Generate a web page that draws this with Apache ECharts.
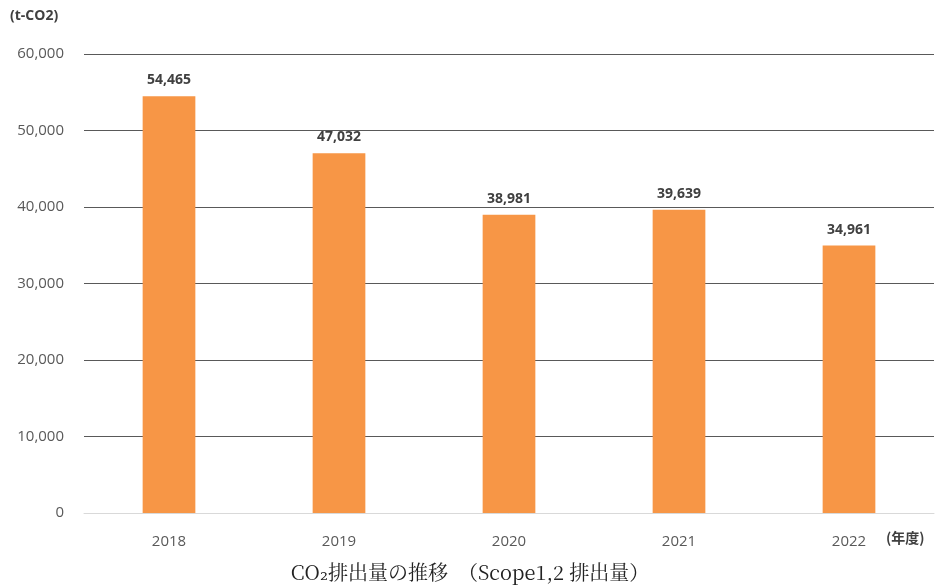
<!DOCTYPE html>
<html><head><meta charset="utf-8">
<script src="https://cdn.jsdelivr.net/npm/echarts@6/dist/echarts.min.js"></script>
<style>html,body{margin:0;padding:0;background:#fff}#c{width:940px;height:588px}</style>
</head><body><div id="c"></div>
<script>
const categories = ['2018','2019','2020','2021','2022'];
const emissions = [54465, 47032, 38981, 39639, 34961];
const yTicks = [0, 10000, 20000, 30000, 40000, 50000, 60000];
const unitLabel = '(t-CO2)';
const xUnitLabel = '(年度)';
const titleText = 'CO₂排出量の推移\u3000（Scope1,2 排出量）';

const chart = echarts.init(document.getElementById('c'));
chart.setOption({
  animation: false,
  backgroundColor: '#fff',
  title: {
    text: titleText, left: 'center', bottom: 1,
    textStyle: {fontFamily: '"Noto Serif CJK JP","Noto Sans CJK JP","DejaVu Serif",serif', fontWeight: 'normal', fontSize: 20, color: '#222'}
  },
  graphic: [
    {type: 'text', left: 10, top: 9, style: {text: unitLabel, fill: '#404040', font: 'bold 14px "Open Sans",sans-serif'}},
    {type: 'text', left: 886, top: 531, style: {text: xUnitLabel, fill: '#404040', font: 'bold 14px "Noto Sans CJK JP",sans-serif'}}
  ],
  grid: {left: 84, right: 6, top: 54, bottom: 75, containLabel: false},
  xAxis: {
    type: 'category', data: categories,
    axisLine: {show: true, lineStyle: {color: '#d9d9d9', width: 1}},
    axisTick: {show: false},
    axisLabel: {color: '#595959', fontSize: 15, margin: 21, fontFamily: '"Open Sans",sans-serif'}
  },
  yAxis: {
    type: 'value', min: yTicks[0], max: yTicks[yTicks.length-1], interval: 10000,
    axisLine: {show: false}, axisTick: {show: false},
    splitLine: {lineStyle: {color: '#595959', width: 1.2}},
    axisLabel: {color: '#595959', fontSize: 15, margin: 20,
      formatter: v => v.toLocaleString('en-US'), fontFamily: '"Open Sans",sans-serif'}
  },
  series: [{
    type: 'bar', data: emissions, barWidth: '31%',
    itemStyle: {color: '#F79646'},
    label: {show: true, position: 'top', distance: 9, color: '#404040', fontWeight: 'bold', fontSize: 14,
      fontFamily: '"Open Sans",sans-serif',
      formatter: p => p.value.toLocaleString('en-US')}
  }]
});
</script></body></html>
